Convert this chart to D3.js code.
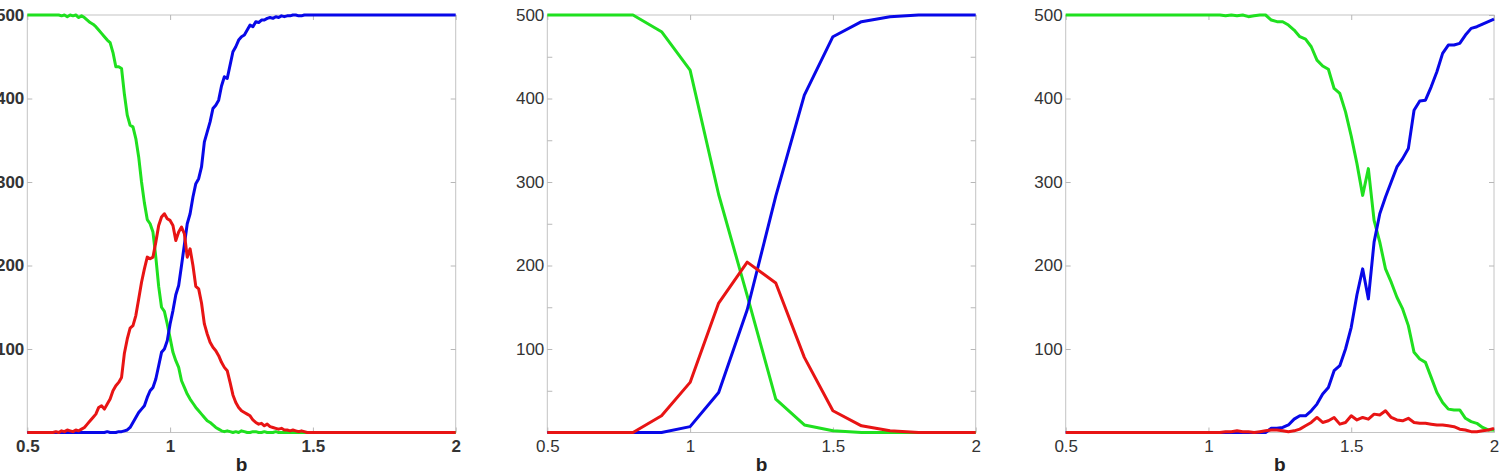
<!DOCTYPE html>
<html>
<head>
<meta charset="utf-8">
<script src="https://cdn.jsdelivr.net/npm/d3@7"></script>
<style>
  body { margin: 0; background: #fff; }
  svg { display: block; }
</style>
</head>
<body>
<script>
// ---- panel 1 (b from 0.5 to 2, step 0.01) ----
var b1 = d3.range(151).map(function(i) { return +(0.5 + i * 0.01).toFixed(2); });
var green1 = [500,500,500,500,500,500,500,500,500,500,
  500,500,499,500,498,500,499,500,497,499,
  497,494,491,489,486,482,478,474,470,467,
  455,438,438,436,405,380,368,366,352,330,
  300,275,255,250,240,210,175,150,145,130,
  113,96,86,78,62,54,46,40,35,30,
  26,22,18,14,12,9,6,4,2,1,
  2,1,0,1,0,2,1,0,0,1,
  1,0,0,1,0,0,0,1,0,0,
  0,0,0,0,0,0,0,0,0,0,
  0,0,0,0,0,0,0,0,0,0, 0,0,0,0,0,0,0,0,0,0, 0,0,0,0,0,0,0,0,0,0,
  0,0,0,0,0,0,0,0,0,0, 0,0,0,0,0,0,0,0,0,0, 0];
var blue1 = [0,0,0,0,0,0,0,0,0,0,
  0,0,0,0,0,0,0,0,0,0,
  0,0,0,0,0,0,0,0,1,0,
  0,0,1,1,2,3,6,12,18,24,
  28,32,42,50,54,64,80,96,100,110,
  130,146,165,176,200,225,250,262,282,298,
  304,318,348,360,372,388,392,398,415,426,
  424,440,456,462,470,474,476,482,488,486,
  492,491,494,494,496,497,496,498,497,499,
  498,499,499,500,500,499,499,500,500,500,
  500,500,500,500,500,500,500,500,500,500, 500,500,500,500,500,500,500,500,500,500,
  500,500,500,500,500,500,500,500,500,500, 500,500,500,500,500,500,500,500,500,500,
  500,500,500,500,500,500,500,500,500,500, 500];
var red1 = [0,0,0,0,0,0,0,0,0,0,
  1,0,2,1,3,2,1,3,2,4,
  6,10,14,18,22,30,32,28,34,40,
  50,56,60,66,95,112,125,128,140,160,
  180,196,210,208,210,228,248,258,262,256,
  254,248,230,240,246,238,210,220,200,175,
  172,155,130,118,108,102,98,92,84,78,
  74,60,45,36,30,26,24,22,20,15,
  12,10,11,8,10,7,6,5,4,5,
  3,3,2,3,2,1,2,1,0,0,
  0,0,0,0,0,0,0,0,0,0, 0,0,0,0,0,0,0,0,0,0, 0,0,0,0,0,0,0,0,0,0,
  0,0,0,0,0,0,0,0,0,0, 0,0,0,0,0,0,0,0,0,0, 0];

// ---- panel 2 (step 0.1) ----
var b2 = [0.5,0.6,0.7,0.8,0.9,1.0,1.1,1.2,1.3,1.4,1.5,1.6,1.7,1.8,1.9,2.0];
var green2 = [500,500,500,500,480,434,285,164,40,9,2,0,0,0,0,0];
var blue2  = [0,0,0,0,0,7,48,147,283,404,474,492,498,500,500,500];
var red2   = [0,0,0,0,20,60,155,204,179,90,26,8,2,0,0,0];

// ---- panel 3 (step 0.02) ----
var b3 = d3.range(76).map(function(i) { return +(0.5 + i * 0.02).toFixed(2); });
var green3 = [500,500,500,500,500,500,500,500,500,500,
  500,500,500,500,500,500,500,500,500,500,
  500,500,500,500,500,500,500,500,499,500,
  499,500,498,499,500,500,494,492,492,488,
  482,474,471,462,446,439,435,412,406,384,
  355,322,284,316,254,228,196,180,162,148,
  128,96,88,84,66,48,36,28,27,27,
  17,13,11,6,3,3];
var blue3 = [0,0,0,0,0,0,0,0,0,0, 0,0,0,0,0,0,0,0,0,0, 0,0,0,0,0,0,0,0,0,0, 0,0,0,0,0,
  0,5,5,6,9,16,20,20,26,34,
  46,54,74,80,100,126,165,196,160,228,
  262,282,300,318,328,340,386,397,398,414,
  432,454,464,464,466,476,484,486,489,492,
  495];
var red3 = [0,0,0,0,0,0,0,0,0,0, 0,0,0,0,0,0,0,0,0,0, 0,0,0,0,0,0,0,0,
  1,1,2,1,1,0,1,
  2,3,3,2,1,2,4,8,12,18,
  12,14,18,10,12,20,15,18,16,22,
  21,26,18,15,14,17,12,11,11,10,
  9,9,8,7,4,3,1,1,2,3,
  5];

var xTickVals = [0.5, 1, 1.5, 2];
var colors = {green: "#1fe01f", blue: "#0808e8", red: "#e81414"};

var w = 1501, h = 472;
var svg = d3.select("body").append("svg")
  .attr("width", w)
  .attr("height", h);

var panels = [
  {left: 27.3, right: 455.7, b: b1, green: green1, blue: blue1, red: red1,
   yTicks: [100,200,300,400,500], bold: true},
  {left: 547.3, right: 975.7, b: b2, green: green2, blue: blue2, red: red2,
   yTicks: [50,100,150,200,250,300,350,400,450,500], bold: false},
  {left: 1065.7, right: 1494, b: b3, green: green3, blue: blue3, red: red3,
   yTicks: [100,200,300,400,500], bold: false}
];

var plotTop = 15, plotBottom = 432.5;

panels.forEach(function(p) {
  var x = d3.scaleLinear().domain([0.5, 2]).range([p.left, p.right]);
  var y = d3.scaleLinear().domain([0, 500]).range([plotBottom, plotTop]);
  var g = svg.append("g");
  var weight = p.bold ? "bold" : "normal";

  // frame
  g.append("rect")
    .attr("x", p.left).attr("y", plotTop)
    .attr("width", p.right - p.left).attr("height", plotBottom - plotTop)
    .attr("fill", "none").attr("stroke", "#c4c4c4").attr("stroke-width", 1);

  function styleAxis(sel) {
    sel.select(".domain").remove();
    sel.selectAll(".tick line").attr("stroke", "#b8b8b8");
    sel.selectAll("text")
      .attr("fill", "#333")
      .style("font-family", "'Liberation Sans', Arial, sans-serif")
      .style("font-size", "17px")
      .style("font-weight", weight);
  }

  g.append("g").attr("transform", "translate(" + p.left + ",0)")
    .call(d3.axisLeft(y).tickValues(p.yTicks).tickSizeInner(-5).tickSizeOuter(0).tickPadding(3)
      .tickFormat(function(d) { return d % 100 === 0 ? d : ""; }))
    .call(styleAxis);
  g.append("g").attr("transform", "translate(" + p.right + ",0)")
    .call(d3.axisRight(y).tickValues(p.yTicks).tickSizeInner(-5).tickSizeOuter(0).tickFormat(""))
    .call(styleAxis);
  g.append("g").attr("transform", "translate(0," + plotBottom + ")")
    .call(d3.axisBottom(x).tickValues(xTickVals).tickSizeInner(-5).tickSizeOuter(0).tickPadding(7)
      .tickFormat(function(d) { return String(d); }))
    .call(styleAxis);
  g.append("g").attr("transform", "translate(0," + plotTop + ")")
    .call(d3.axisTop(x).tickValues(xTickVals).tickSizeInner(-5).tickSizeOuter(0).tickFormat(""))
    .call(styleAxis);

  // x label
  g.append("text")
    .attr("x", (p.left + p.right) / 2)
    .attr("y", 471)
    .attr("text-anchor", "middle")
    .attr("fill", "#222")
    .style("font-family", "'Liberation Sans', Arial, sans-serif")
    .style("font-size", "19px")
    .style("font-weight", "bold")
    .text("b");

  var line = d3.line()
    .x(function(d, i) { return x(p.b[i]); })
    .y(function(d) { return y(d); });

  ["green", "blue", "red"].forEach(function(k) {
    g.append("path")
      .datum(p[k])
      .attr("d", line)
      .attr("fill", "none")
      .attr("stroke", colors[k])
      .attr("stroke-width", 3)
      .attr("stroke-linejoin", "round");
  });
});
</script>
</body>
</html>
